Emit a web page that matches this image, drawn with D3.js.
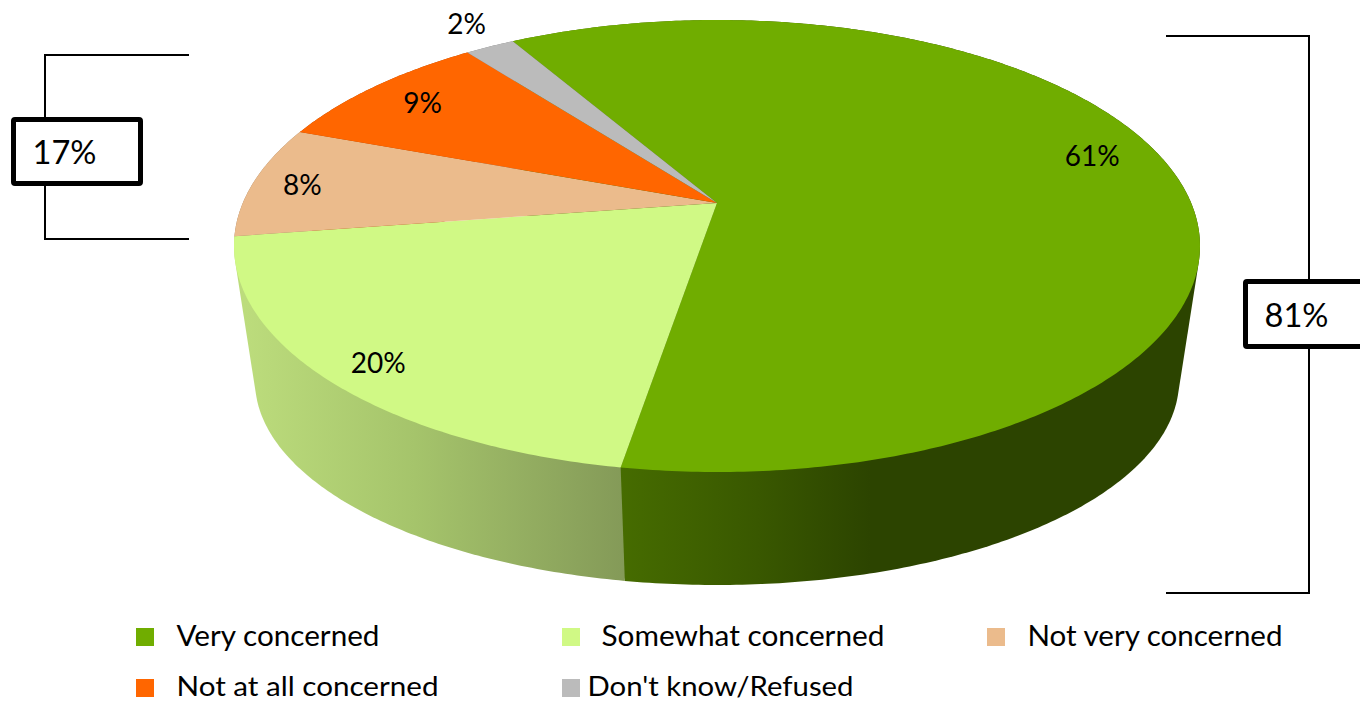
<!DOCTYPE html>
<html><head><meta charset="utf-8">
<script src="https://cdn.jsdelivr.net/npm/d3@7/dist/d3.min.js"></script>
<style>html,body{margin:0;padding:0;background:#fff;overflow:hidden}svg{display:block}text{font-family:Lato,"Open Sans",sans-serif;fill:#000}</style>
</head><body><svg id="c" width="1360" height="701"></svg>
<script>
const categories = ["Very concerned","Somewhat concerned","Not very concerned","Not at all concerned","Don't know/Refused"];
const values = [61,20,8,9,2];
const valueLabels = ["61%","20%","8%","9%","2%"];
const colors = ["#70ad00","#d0f985","#ebbb8c","#ff6600","#bbbbbb"];
const groupLabels = ["17%","81%"];

// layout
const W=1360,H=701, cx=717, cy=246, rx=483, ry=226, apex=-43;
const k=apex/ry, a=rx*Math.sqrt(1-k*k), b=ry;
const sideScaleX=462/483, sideScaleY=204/226, sideCy=381;
const rotation=-30.1*Math.PI/180;
const labelNudges=[[34,-9],[-57,43],[-66,9],[-31,0],[-74,-48]];
const legendLayout=[
 {sx:136,sy:628,tx:176.5,by:646,w:203,fs:28},
 {sx:562,sy:628,tx:601.5,by:646,w:283,fs:28},
 {sx:987,sy:628,tx:1027.5,by:646,w:255,fs:28},
 {sx:136,sy:679,tx:176.5,by:695.5,w:262,fs:27},
 {sx:562,sy:679,tx:587.5,by:695.5,w:266,fs:27}];

const svg=d3.select("#c");
function proj(t,r=1){const X=Math.sin(t)*r,Y=-Math.cos(t)*r,d=1+k*Y;return [a*X/d,(b*Y+apex)/d];}
const topPt=p=>[cx+p[0],cy+p[1]];
const botPt=p=>[cx+p[0]*sideScaleX,sideCy+p[1]*sideScaleY];
const pie=d3.pie().sort(null).value(d=>d).startAngle(rotation).endAngle(rotation+2*Math.PI);
const slices=pie(values);
const samples=d=>{const n=Math.max(8,Math.ceil((d.endAngle-d.startAngle)*90));return d3.range(n+1).map(i=>d.startAngle+(d.endAngle-d.startAngle)*i/n);};
const lineGen=d3.line();

const defs=svg.append("defs");
function grad(id,x1,x2,stops){const g=defs.append("linearGradient").attr("id",id).attr("gradientUnits","userSpaceOnUse").attr("x1",x1).attr("x2",x2).attr("y1",0).attr("y2",0);
 stops.forEach(s=>g.append("stop").attr("offset",s[0]).attr("stop-color",s[1]));}
grad("sideLight",245,623,[[0,"#bcdc7c"],[0.45,"#a5c46b"],[1,"#849a58"]]);
grad("sideDark",620,870,[[0,"#466c00"],[0.55,"#395800"],[1,"#2c4400"]]);
const sideFill=["url(#sideDark)","url(#sideLight)",d3.color(colors[2]).darker(1.2),d3.color(colors[3]).darker(1.2),d3.color(colors[4]).darker(1.2)];

// sides: back slices first, front slices last
[4,3,2,0,1].forEach(i=>{
 const ts=samples(slices[i]);
 const hull=d3.polygonHull(ts.map(t=>topPt(proj(t))).concat(ts.map(t=>botPt(proj(t)))));
 svg.append("path").attr("d",lineGen(hull)+"Z").attr("fill",sideFill[i]);
});
// top faces
svg.append("g").selectAll("path").data(slices).join("path")
 .attr("d",d=>lineGen([[cx,cy+apex]].concat(samples(d).map(t=>topPt(proj(t)))))+"Z")
 .attr("fill",(d,i)=>colors[i]);
// value labels
svg.append("g").selectAll("text").data(slices).join("text")
 .attr("text-anchor","middle").attr("font-size",28)
 .attr("x",(d,i)=>cx+proj((d.startAngle+d.endAngle)/2,.75)[0]+labelNudges[i][0])
 .attr("y",(d,i)=>cy+proj((d.startAngle+d.endAngle)/2,.75)[1]+labelNudges[i][1])
 .text((d,i)=>valueLabels[i]);

// brackets
const br=svg.append("g").attr("fill","none").attr("stroke","#000").attr("stroke-width",2);
br.append("path").attr("d","M189,55H45V239H189");
br.append("path").attr("d","M1166,36H1309V593H1166");
const bx=svg.append("g");
bx.append("rect").attr("x",13.5).attr("y",119.5).attr("width",127).attr("height",64).attr("rx",1.5).attr("fill","#fff").attr("stroke","#000").attr("stroke-width",5);
bx.append("rect").attr("x",1245.5).attr("y",281.5).attr("width",140).attr("height",65).attr("rx",1.5).attr("fill","#fff").attr("stroke","#000").attr("stroke-width",5);
bx.append("text").attr("x",32.5).attr("y",164).attr("font-size",32).attr("textLength",64).attr("lengthAdjust","spacingAndGlyphs").text(groupLabels[0]);
bx.append("text").attr("x",1264.5).attr("y",327).attr("font-size",32).attr("textLength",64).attr("lengthAdjust","spacingAndGlyphs").text(groupLabels[1]);

// legend
const lg=svg.append("g").selectAll("g").data(categories).join("g");
lg.append("rect").attr("x",(d,i)=>legendLayout[i].sx).attr("y",(d,i)=>legendLayout[i].sy).attr("width",18).attr("height",18).attr("fill",(d,i)=>colors[i]);
lg.append("text").attr("x",(d,i)=>legendLayout[i].tx).attr("y",(d,i)=>legendLayout[i].by).attr("font-size",(d,i)=>legendLayout[i].fs)
 .attr("textLength",(d,i)=>legendLayout[i].w).attr("lengthAdjust","spacingAndGlyphs").text(d=>d);
</script></body></html>
